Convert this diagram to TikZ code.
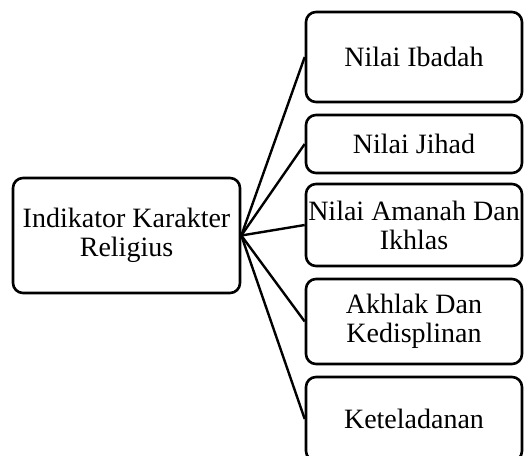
\documentclass[tikz,border=0pt]{standalone}
\usepackage{fontspec}
\setmainfont{Liberation Serif}
\begin{document}
\begin{tikzpicture}[x=1pt,y=-1pt,
  box/.style={draw=black, line width=2.6pt, rounded corners=10pt, fill=white,
    align=center, inner sep=0pt, minimum width=216pt,
    font=\fontsize{28}{29}\selectfont},
  link/.style={draw=black, line width=2.4pt}]
  \useasboundingbox (0,0) rectangle (526,455);
  \clip (0,0) rectangle (526,455);
  % root node
  \node[box, minimum width=227pt, minimum height=115pt] (root) at (126.5,235.5)
    {Indikator Karakter\\Religius};
  % indicator nodes
  \node[box, minimum height=90pt] (b1) at (414,57) {Nilai Ibadah};
  \node[box, minimum height=58pt] (b2) at (414,144) {Nilai Jihad};
  \node[box, minimum height=82pt] (b3) at (414,225) {Nilai Amanah Dan\\Ikhlas};
  \node[box, minimum height=85pt] (b4) at (414,321.5) {Akhlak Dan\\Kedisplinan};
  \node[box, minimum height=84pt] (b5) at (414,419) {Keteladanan};
  % connectors from the root to each indicator
  \foreach \n in {b1,b2,b3,b4,b5}
    \draw[link] (root.east) -- (\n.west);
\end{tikzpicture}
\end{document}
